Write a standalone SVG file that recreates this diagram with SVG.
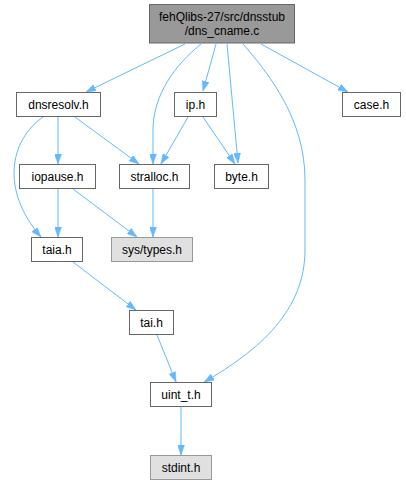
<svg xmlns="http://www.w3.org/2000/svg" width="406" height="485" viewBox="0 0 406 485">
<defs>
<style>
.n rect{fill:#fff;stroke:#666;stroke-width:1}
.g rect{fill:#e0e0e0;stroke:#999;stroke-width:1}
.t rect{fill:#999;stroke:#666;stroke-width:1}
text{font-family:"Liberation Sans",Arial,sans-serif;font-size:12px;fill:#000;text-anchor:middle}
.e path{fill:none;stroke:#63b8ff;stroke-width:1;marker-end:url(#a)}
</style>
<marker id="a" viewBox="0 0 10 7" refX="10" refY="3.5" markerWidth="10" markerHeight="7" markerUnits="userSpaceOnUse" orient="auto">
<path d="M0,0 L10,3.5 L0,7 z" fill="#63b8ff" stroke="#63b8ff" stroke-width="0.5"/>
</marker>
</defs>
<rect width="406" height="485" fill="#fff"/>
<g class="e" id="edges">
<path d="M185,44 L86,92"/>
<path d="M201,44 C175,65 153,95 153,130 L153,164"/>
<path d="M216,44 L203,91"/>
<path d="M227,44 L238,163"/>
<path d="M243,44 C270,75 305,120 305,180 L305,250 C305,310 260,350 204,382"/>
<path d="M261,44 L348,92"/>
<path d="M58,117 L58,164"/>
<path d="M75,117 L139,164"/>
<path d="M43,117 C10,140 0,190 41,237"/>
<path d="M188,117 L161,164"/>
<path d="M203,117 L235,164"/>
<path d="M58,189 L58,237"/>
<path d="M73,189 L137,237"/>
<path d="M153,189 L153,237"/>
<path d="M73,262 L136,310"/>
<path d="M157,335 L176,382"/>
<path d="M181,407 L181,455"/>
</g>
<g id="n0" class="t"><rect x="149.5" y="4.5" width="145" height="38.5"/><text x="222" y="21">fehQlibs-27/src/dnsstub</text><text x="222" y="35">/dns_cname.c</text></g>
<g id="n1" class="n"><rect x="16.5" y="92.5" width="84" height="24"/><text x="58.5" y="109">dnsresolv.h</text></g>
<g id="n2" class="n"><rect x="174.5" y="92.5" width="42" height="24"/><text x="195.5" y="109">ip.h</text></g>
<g id="n3" class="n"><rect x="342.5" y="92.5" width="58" height="24"/><text x="371.5" y="109">case.h</text></g>
<g id="n4" class="n"><rect x="19.5" y="164.5" width="76" height="24"/><text x="57.5" y="181">iopause.h</text></g>
<g id="n5" class="n"><rect x="119.5" y="164.5" width="70" height="24"/><text x="154.5" y="181">stralloc.h</text></g>
<g id="n6" class="n"><rect x="214.5" y="164.5" width="54" height="24"/><text x="241.5" y="181">byte.h</text></g>
<g id="n7" class="n"><rect x="31.5" y="237.5" width="51" height="24"/><text x="57" y="254">taia.h</text></g>
<g id="n8" class="g"><rect x="111.5" y="237.5" width="81" height="24"/><text x="152" y="254">sys/types.h</text></g>
<g id="n9" class="n"><rect x="129.5" y="310.5" width="44" height="24"/><text x="151.5" y="327">tai.h</text></g>
<g id="n10" class="n"><rect x="150.5" y="382.5" width="61" height="24"/><text x="181" y="399">uint_t.h</text></g>
<g id="n11" class="g"><rect x="150.5" y="455.5" width="61" height="24"/><text x="181" y="472">stdint.h</text></g>
</svg>
